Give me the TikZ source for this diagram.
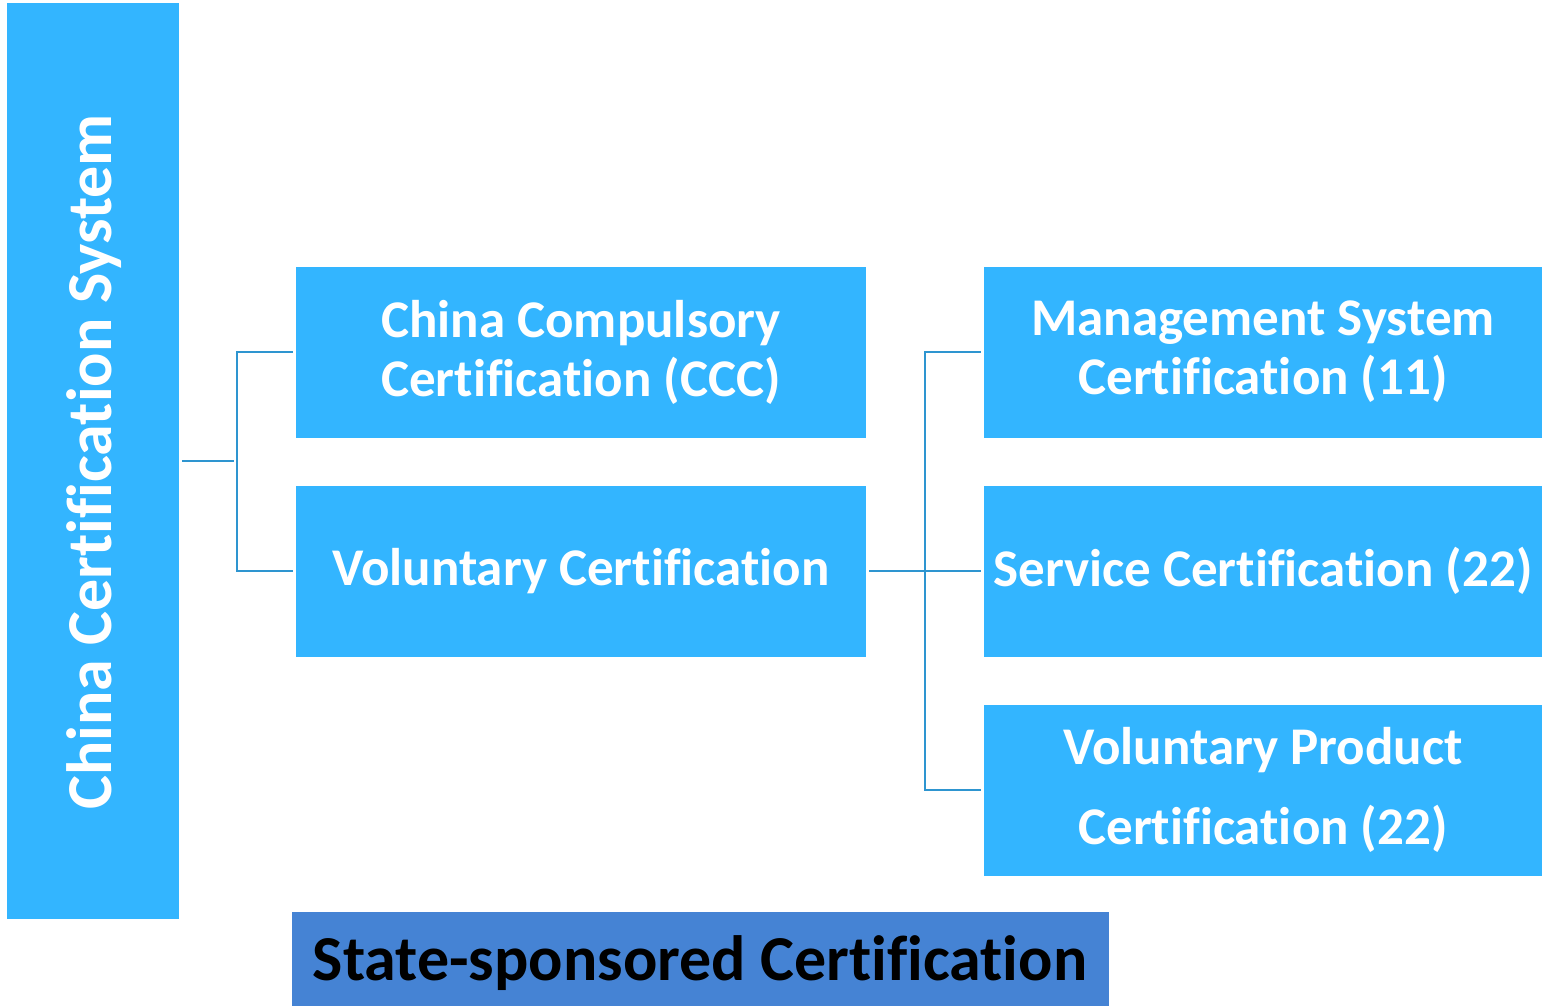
\documentclass[tikz,border=0pt]{standalone}
\usepackage{fontspec}
\setmainfont{Carlito}[Ligatures=NoCommon]
\usetikzlibrary{positioning}

\definecolor{boxblue}{RGB}{51,181,255}
\definecolor{linkblue}{RGB}{46,149,208}
\definecolor{stateblue}{RGB}{69,131,212}

\tikzset{
  certbox/.style={fill=boxblue, text=white, font=\bfseries\fontsize{53}{59}\selectfont,
    minimum width=570pt, minimum height=171pt, inner sep=0pt, align=center},
  subbox/.style={certbox, minimum width=558pt},
  link/.style={draw=linkblue, line width=2.8pt, shorten <=3pt, shorten >=3pt}
}

\begin{document}
\begin{tikzpicture}[x=1pt,y=-1pt,node distance=219pt,on grid]
\useasboundingbox (0,0) rectangle (1542,1005);
				\node[fill=boxblue, minimum width=172pt, minimum height=916pt, inner sep=0pt] (sys) at (93,461) {};
				\node[rotate=90, text=white, font=\bfseries\fontsize{64}{66}\selectfont] (systxt) at (94,462) {China Certification System};
				\node[certbox] (ccc) at (581,352) {China Compulsory\\Certification (CCC)};
				\node[certbox] (vol) [below=of ccc] {Voluntary Certification};
				\node[subbox] (mgmt) at (1263,352) {Management System\\Certification (11)};
				\node[subbox] (svc) [below=of mgmt] {Service Certification (22)};
				\node[subbox] (vpc) [below=of svc] {Voluntary Product\\[21pt]Certification (22)};
				\node[fill=stateblue, minimum width=817pt, minimum height=94pt, inner sep=0pt,
				  font=\bfseries\fontsize{64}{66}\selectfont] (state) at (700.5,958.5) {};
				\node[font=\bfseries\fontsize{64}{66}\selectfont] (statetxt) at (700,963) {State-sponsored Certification};
				\coordinate (j1) at (237,461);
				\coordinate (j2) at (925,571);
				\draw[link] (sys.east) -- (j1);
				\draw[link] (ccc.west) -| (j1) |- (vol.west);
				\draw[link] (vol.east) -- (svc.west);
				\draw[link] (mgmt.west) -| (j2) |- (vpc.west);
			\end{tikzpicture}
\end{document}
